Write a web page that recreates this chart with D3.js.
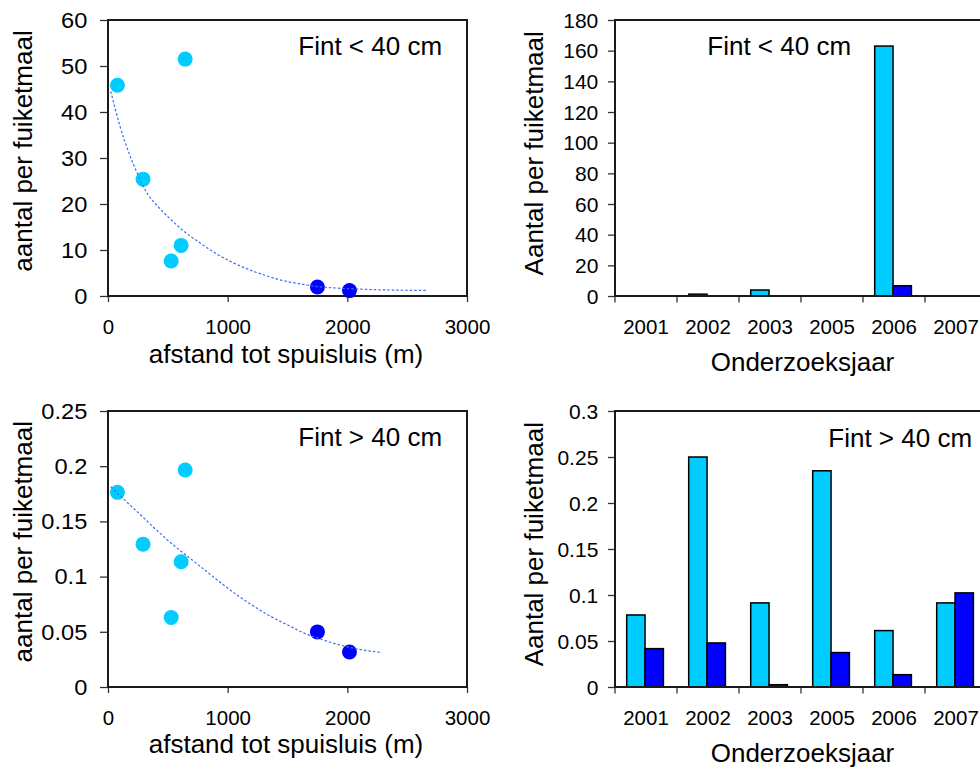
<!DOCTYPE html>
<html><head><meta charset="utf-8">
<script src="https://cdn.jsdelivr.net/npm/d3@7"></script>
<style>
body{margin:0;background:#fff}
svg{display:block;overflow:hidden}
text{font-family:"Liberation Sans",Arial,Helvetica,sans-serif;fill:#000}
</style>
</head><body>
<svg id="c" width="980" height="767"></svg>
<script>
// ---------- data ----------
const distLight = [79, 645, 293, 611, 528];
const distDark = [1750, 2018];
const smallLight = [45.8, 51.5, 25.4, 11.0, 7.6];
const smallDark = [1.96, 1.17];
const largeLight = [0.1763, 0.1965, 0.1294, 0.1134, 0.0629];
const largeDark = [0.0499, 0.0317];

const trendSmallX = [23, 98, 182, 251, 321, 419, 531, 642, 754, 893, 1033, 1172, 1312, 1452, 1592, 1731, 1926, 2205, 2666];
const trendSmallY = [44.5, 37.1, 30.6, 26.3, 22.6, 19.4, 16.5, 13.9, 11.8, 9.4, 7.4, 5.8, 4.5, 3.4, 2.7, 2.1, 1.7, 1.4, 1.2];
const trendLargeX = [23, 140, 251, 391, 531, 670, 810, 949, 1089, 1228, 1368, 1507, 1647, 1787, 1926, 2093, 2289];
const trendLargeY = [0.1814, 0.1693, 0.1581, 0.1436, 0.1300, 0.1179, 0.1058, 0.0938, 0.0825, 0.0725, 0.0635, 0.0559, 0.0484, 0.0430, 0.0384, 0.0342, 0.0312];

const years = ["2001", "2002", "2003", "2005", "2006", "2007"];
const yearSmallLight = [0, 1.2, 3.9, 0, 163, 0];
const yearSmallDark = [0, 0, 0, 0, 6.7, 0];
const yearLargeLight = [0.0783, 0.25, 0.0914, 0.235, 0.0613, 0.0914];
const yearLargeDark = [0.0417, 0.0479, 0.0025, 0.0374, 0.0134, 0.1023];

const distTicks = [0, 1000, 2000, 3000];
const smallTicks = [0, 10, 20, 30, 40, 50, 60];
const largeTicks = [0, 0.05, 0.1, 0.15, 0.2, 0.25];
const yearSmallTicks = [0, 20, 40, 60, 80, 100, 120, 140, 160, 180];
const yearLargeTicks = [0, 0.05, 0.1, 0.15, 0.2, 0.25, 0.3];

// ---------- style ----------
const LIGHT = "#00CCFF", DARK = "#0000FF", TREND = "#3d6ef2";
const svg = d3.select("#c");
const fmt = d3.format("~g");

function box(L, R, T, B) {
  svg.append("rect").attr("x", L).attr("y", T).attr("width", R - L).attr("height", B - T)
    .attr("fill", "none").attr("stroke", "#1a1a1a").attr("stroke-width", 2);
}
function cleanAxis(g) {
  g.attr("font-size", null).attr("font-family", null);
  g.select(".domain").remove();
  g.selectAll(".tick line").attr("stroke", "#333").attr("stroke-width", 1.3);
}

function scatterPanel(c) {
  const x = d3.scaleLinear().domain([0, 3000]).range([c.L, c.R]);
  const y = d3.scaleLinear().domain([0, c.yMax]).range([c.B, c.T]);
  const gy = svg.append("g").attr("transform", `translate(${c.L},0)`)
    .call(d3.axisLeft(y).tickValues(c.yTicks).tickSize(8).tickFormat(fmt));
  cleanAxis(gy);
  gy.selectAll(".tick text").attr("x", 0).attr("dy", "0.34em")
    .attr("transform", "translate(-20.7,0) scale(1.1,1)").style("font-size", "21.5px");
  const gx = svg.append("g").attr("transform", `translate(0,${c.B})`)
    .call(d3.axisBottom(x).tickValues(distTicks).tickSize(6).tickFormat(d3.format("d")));
  cleanAxis(gx);
  gx.selectAll(".tick text").attr("y", 37.5).attr("dy", 0).style("font-size", "20.5px");
  box(c.L, c.R, c.T, c.B);
  svg.append("g").selectAll("circle").data(distLight.map((d, i) => [d, c.light[i]])).join("circle")
    .attr("cx", d => x(d[0])).attr("cy", d => y(d[1])).attr("r", 7.5).attr("fill", LIGHT);
  svg.append("g").selectAll("circle").data(distDark.map((d, i) => [d, c.dark[i]])).join("circle")
    .attr("cx", d => x(d[0])).attr("cy", d => y(d[1])).attr("r", 7.5).attr("fill", DARK);
  const line = d3.line().x(d => x(d[0])).y(d => y(d[1])).curve(d3.curveMonotoneX);
  svg.append("path").datum(c.tx.map((d, i) => [d, c.ty[i]]))
    .attr("d", line).attr("fill", "none").attr("stroke", TREND)
    .attr("stroke-width", 1.2).attr("stroke-dasharray", "2.5,2");
  svg.append("text").attr("x", c.annX).attr("y", c.annY).style("font-size", "26px").text(c.ann);
  svg.append("text").attr("x", 286).attr("y", c.xTitleY).attr("text-anchor", "middle")
    .style("font-size", "26px").text("afstand tot spuisluis (m)");
  svg.append("text").attr("transform", `translate(32,${c.yTitleY}) rotate(-90)`)
    .attr("text-anchor", "middle").style("font-size", "26px").text("aantal per fuiketmaal");
}

function barPanel(c) {
  const x0 = d3.scaleBand().domain(years).range([c.L, c.R]).padding(0);
  const x1 = d3.scaleBand().domain(["light", "dark"]).range([11.7, 48.4]).padding(0);
  const y = d3.scaleLinear().domain([0, c.yMax]).range([c.B, c.T]);
  const gy = svg.append("g").attr("transform", `translate(${c.L},0)`)
    .call(d3.axisLeft(y).tickValues(c.yTicks).tickSize(7).tickPadding(9.7).tickFormat(fmt));
  cleanAxis(gy);
  gy.selectAll(".tick text").attr("dy", "0.34em").style("font-size", "21px");
  const bounds = years.map(d => x0(d)).concat([c.R]);
  svg.append("g").selectAll("line").data(bounds).join("line")
    .attr("x1", d => d).attr("x2", d => d).attr("y1", c.B).attr("y2", c.B + 6.5)
    .attr("stroke", "#333").attr("stroke-width", 1.3);
  svg.append("g").selectAll("text").data(years).join("text")
    .attr("x", d => x0(d) + x0.bandwidth() / 2).attr("y", c.B + 37.5)
    .attr("text-anchor", "middle").style("font-size", "20.5px").text(d => d);
  const rows = [];
  years.forEach((yr, i) => {
    rows.push({ yr, s: "light", v: c.light[i] });
    rows.push({ yr, s: "dark", v: c.dark[i] });
  });
  svg.append("g").selectAll("rect").data(rows.filter(d => d.v > 0)).join("rect")
    .attr("x", d => x0(d.yr) + x1(d.s)).attr("width", x1.bandwidth())
    .attr("y", d => y(d.v)).attr("height", d => y(0) - y(d.v))
    .attr("fill", d => d.s === "light" ? LIGHT : DARK)
    .attr("stroke", "#000").attr("stroke-width", 1.5);
  box(c.L, c.R, c.T, c.B);
  svg.append("text").attr("x", c.annX).attr("y", c.annY).style("font-size", "26px").text(c.ann);
  svg.append("text").attr("x", 802.5).attr("y", c.xTitleY).attr("text-anchor", "middle")
    .style("font-size", "26px").text("Onderzoeksjaar");
  svg.append("text").attr("transform", `translate(543,${c.yTitleY}) rotate(-90)`)
    .attr("text-anchor", "middle").style("font-size", "26px").text("Aantal per fuiketmaal");
}

scatterPanel({ L: 108, R: 467, T: 20, B: 296, yMax: 60, yTicks: smallTicks,
  light: smallLight, dark: smallDark, tx: trendSmallX, ty: trendSmallY,
  ann: "Fint < 40 cm", annX: 298.3, annY: 55, xTitleY: 362.5, yTitleY: 151 });
scatterPanel({ L: 108, R: 467, T: 411, B: 687, yMax: 0.25, yTicks: largeTicks,
  light: largeLight, dark: largeDark, tx: trendLargeX, ty: trendLargeY,
  ann: "Fint > 40 cm", annX: 298.3, annY: 445.7, xTitleY: 753, yTitleY: 541.7 });
barPanel({ L: 615, R: 987, T: 20, B: 296, yMax: 180, yTicks: yearSmallTicks,
  light: yearSmallLight, dark: yearSmallDark,
  ann: "Fint < 40 cm", annX: 707.3, annY: 55, xTitleY: 370.5, yTitleY: 153.3 });
barPanel({ L: 615, R: 987, T: 411, B: 687, yMax: 0.3, yTicks: yearLargeTicks,
  light: yearLargeLight, dark: yearLargeDark,
  ann: "Fint > 40 cm", annX: 828.3, annY: 446.7, xTitleY: 762, yTitleY: 544.2 });
</script>
</body></html>
